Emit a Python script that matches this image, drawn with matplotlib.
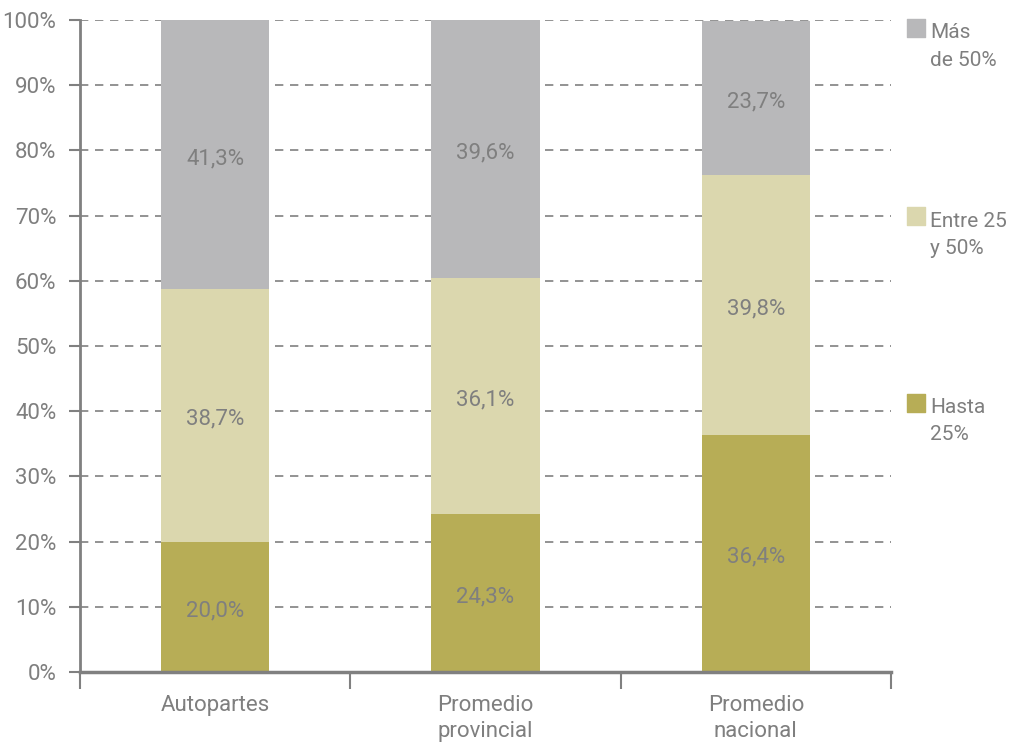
import matplotlib
matplotlib.use('Agg')
import matplotlib.pyplot as plt
import matplotlib.font_manager as fm
import numpy as np

# data
categories = ['Autopartes', 'Promedio\nprovincial', 'Promedio\nnacional']
hasta_25 = [20.0, 24.3, 36.4]
entre_25_50 = [38.7, 36.1, 39.8]
mas_50 = [41.3, 39.6, 23.7]
series_labels = ['Hasta\n25%', 'Entre 25\ny 50%', 'Más\nde 50%']

colors = ['#B7AD56', '#DBD7AE', '#B8B8BA']
text_col = '#7F7F7F'

names = {f.name for f in fm.fontManager.ttflist}
fam = [n for n in ['Liberation Sans Narrow', 'Roboto', 'DejaVu Sans'] if n in names]
plt.rcParams['font.family'] = fam

fig = plt.figure(figsize=(10.1, 7.47), dpi=100)
ax = fig.add_axes([80/1010, 75/747, 811/1010, 652/747])

x = np.arange(len(categories))
w = 0.4
bottom = np.zeros(len(categories))
for vals, col in zip([hasta_25, entre_25_50, mas_50], colors):
    vals = np.array(vals)
    ax.bar(x, vals, w, bottom=bottom, color=col, zorder=2)
    for xi, b, v in zip(x, bottom, vals):
        ax.text(xi, b + v / 2 - 0.6, ('%.1f%%' % v).replace('.', ','), ha='center',
                va='center', fontsize=16, color=text_col, zorder=3)
    bottom = bottom + vals

ax.set_xlim(-0.5, 2.5)
ax.set_ylim(0, 100)
ax.set_yticks(np.arange(0, 101, 10))
ax.set_yticklabels(['%d%%' % v for v in range(0, 101, 10)])
ax.yaxis.grid(True, linestyle=(0, (5, 4)), color='#808080', linewidth=1.2, zorder=1)
ax.set_axisbelow(True)

# category boundary ticks on the x axis
ax.set_xticks([-0.5, 0.5, 1.5, 2.5])
ax.set_xticklabels([])
ax.tick_params(axis='x', length=12, width=1.5, color='#808080', direction='out')
ax.tick_params(axis='y', length=8, width=1.5, color='#808080', labelsize=16,
               labelcolor=text_col, pad=9)
for xi, c in zip(x, categories):
    ax.text(xi, -3.6, c, ha='center', va='top', fontsize=16, color=text_col,
            linespacing=1.3, clip_on=False)

for s in ['top', 'right']:
    ax.spines[s].set_visible(False)
ax.spines['left'].set_color('#808080')
ax.spines['left'].set_linewidth(2)
ax.spines['bottom'].set_color('#808080')
ax.spines['bottom'].set_linewidth(2.5)

# legend at the right side
leg_y = [41.3, 69.9, 98.8]
for yv, lab, col in zip(leg_y, series_labels, colors):
    ax.scatter([2.592], [yv], marker='s', s=150, color=col, clip_on=False, zorder=3)
    ax.text(2.645, yv + 0.7, lab, ha='left', va='top', fontsize=15, color=text_col,
            linespacing=1.55, clip_on=False)

fig.savefig('out.png', dpi=100)
